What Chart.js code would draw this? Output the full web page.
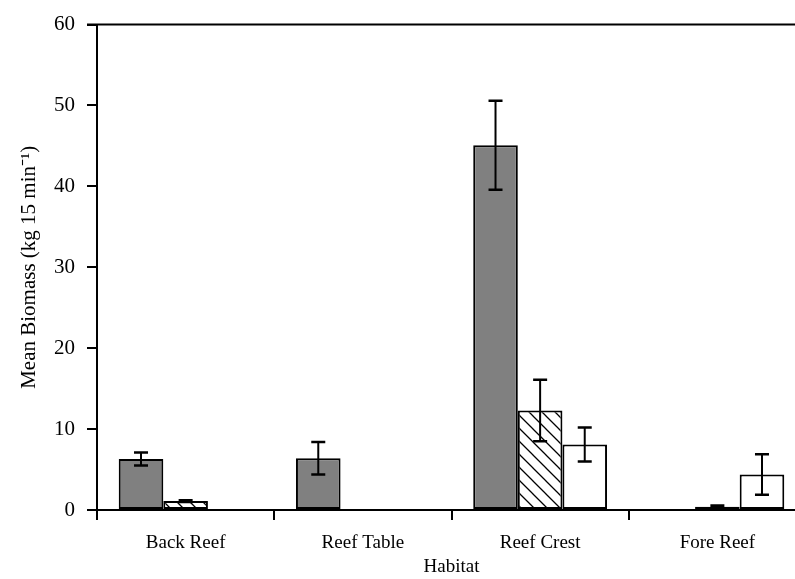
<!DOCTYPE html>
<html>
<head>
<meta charset="utf-8">
<script src="https://cdn.jsdelivr.net/npm/chart.js@4.4.0/dist/chart.umd.min.js"></script>
<style>
  html, body { margin: 0; padding: 0; overflow: hidden; background: #fff; }
  canvas { display: block; }
</style>
</head>
<body>
<canvas id="biomassChart" width="806" height="579" style="width:806px;height:579px"></canvas>
<script>
const habitats = ['Back Reef', 'Reef Table', 'Reef Crest', 'Fore Reef'];
const graySeries = [6.3, 6.4, 45.1, 0.1];
const grayErr = [0.8, 2.0, 5.5, 0];
const hatchSeries = [1.1, 0.1, 12.3, 0.4];
const hatchErr = [0.1, 0, 3.8, 0.15];
const whiteSeries = [0.05, 0.1, 8.1, 4.4];
const whiteErr = [0, 0, 2.1, 2.5];
const yTicks = [0, 10, 20, 30, 40, 50, 60];

// diagonal hatch fill
function makeHatch() {
    const c = document.createElement('canvas');
    c.width = 13;
    c.height = 13;
    const g = c.getContext('2d');
    g.fillStyle = '#fff';
    g.fillRect(0, 0, 13, 13);
    g.strokeStyle = '#000';
    g.lineWidth = 1.3;
    g.beginPath();
    g.moveTo(-2, -2); g.lineTo(15, 15);
    g.moveTo(-2, 11); g.lineTo(2, 15);
    g.moveTo(11, -2); g.lineTo(15, 2);
    g.stroke();
    return g.createPattern(c, 'repeat');
}

const errorBars = {
    id: 'errorBars',
    afterDatasetsDraw(chart) {
        const ctx = chart.ctx;
        const y = chart.scales.y;
        ctx.save();
        ctx.strokeStyle = '#000';
        chart.data.datasets.forEach((ds, i) => {
            const meta = chart.getDatasetMeta(i);
            meta.data.forEach((bar, j) => {
                const e = ds.errors[j];
                if (!e) return;
                const top = y.getPixelForValue(ds.data[j] + e);
                const bot = y.getPixelForValue(ds.data[j] - e);
                ctx.lineWidth = 2;
                ctx.beginPath();
                ctx.moveTo(bar.x, top); ctx.lineTo(bar.x, bot);
                ctx.stroke();
                ctx.lineWidth = 2.5;
                ctx.beginPath();
                ctx.moveTo(bar.x - 7, top); ctx.lineTo(bar.x + 7, top);
                ctx.moveTo(bar.x - 7, bot); ctx.lineTo(bar.x + 7, bot);
                ctx.stroke();
            });
        });
        // top frame line
        const a = chart.chartArea;
        ctx.lineWidth = 2;
        ctx.beginPath();
        ctx.moveTo(a.left - 10, a.top);
        ctx.lineTo(a.right, a.top);
        ctx.stroke();
        ctx.restore();
    }
};

const ctx = document.getElementById('biomassChart').getContext('2d');
new Chart(ctx, {
    type: 'bar',
    data: {
        labels: habitats,
        datasets: [{
            data: graySeries,
            errors: grayErr,
            backgroundColor: '#808080',
            borderColor: '#000',
            borderWidth: 2,
            borderSkipped: false
        }, {
            data: hatchSeries,
            errors: hatchErr,
            backgroundColor: makeHatch(),
            borderColor: '#000',
            borderWidth: 2,
            borderSkipped: false
        }, {
            data: whiteSeries,
            errors: whiteErr,
            backgroundColor: '#fff',
            borderColor: '#000',
            borderWidth: 2,
            borderSkipped: false
        }]
    },
    options: {
        responsive: false,
        animation: false,
        datasets: {
            bar: {
                categoryPercentage: 0.755,
                barPercentage: 1
            }
        },
        layout: {
            padding: { top: 22, left: 0, right: 0, bottom: 0 }
        },
        scales: {
            y: {
                min: 0,
                max: 60,
                afterBuildTicks: (scale) => { scale.ticks = yTicks.map(v => ({ value: v })); },
                afterFit: (scale) => { scale.width = 97; },
                border: { display: true, color: '#000', width: 2 },
                grid: {
                    drawOnChartArea: false,
                    color: '#000',
                    tickLength: 10,
                    lineWidth: 2
                },
                ticks: {
                    color: '#000',
                    padding: 12,
                    font: { family: 'Liberation Serif', size: 21 }
                },
                title: {
                    display: true,
                    text: 'Mean Biomass (kg 15 min⁻¹)',
                    color: '#000',
                    padding: { top: 17, bottom: 0 },
                    font: { family: 'Liberation Serif', size: 21 }
                }
            },
            x: {
                afterFit: (scale) => { scale.height = 69; },
                border: { display: true, color: '#000', width: 2 },
                grid: {
                    offset: true,
                    drawOnChartArea: false,
                    color: '#000',
                    tickLength: 10,
                    lineWidth: 2
                },
                ticks: {
                    color: '#000',
                    padding: 12,
                    font: { family: 'Liberation Serif', size: 19 }
                },
                title: {
                    display: true,
                    text: 'Habitat',
                    color: '#000',
                    padding: { top: 0, bottom: 1 },
                    font: { family: 'Liberation Serif', size: 19 }
                }
            }
        },
        plugins: {
            legend: { display: false },
            tooltip: { enabled: false }
        }
    },
    plugins: [errorBars]
});
</script>
</body>
</html>
